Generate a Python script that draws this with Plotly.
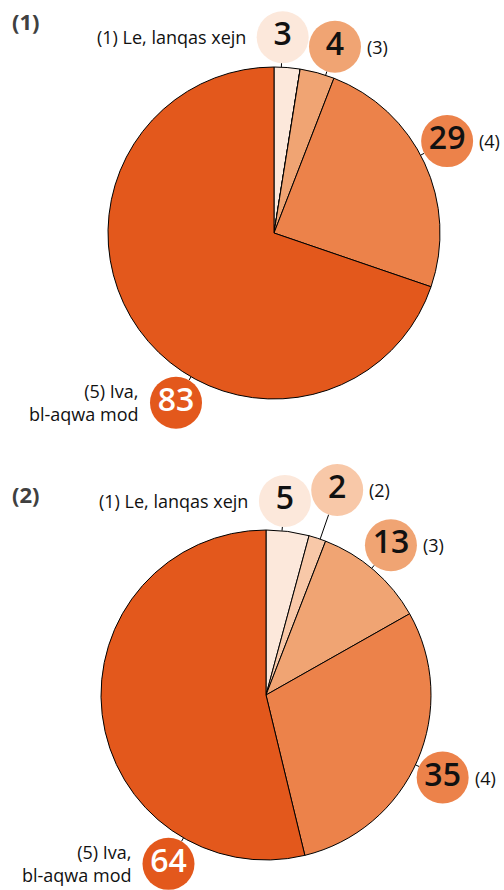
import math
import plotly.graph_objects as go

# ---- data ----
categories = ["(1) Le, lanqas xejn", "(2)", "(3)", "(4)", "(5) Iva,<br>bl-aqwa mod"]
values_1 = [3, 0, 4, 29, 83]
values_2 = [5, 2, 13, 35, 64]
panel_titles = ["(1)", "(2)"]

# ---- style ----
W, H = 504, 890
colors = ["#FCE8DB", "#F8C8A8", "#F0A473", "#EC824A", "#E3581C"]
num_colors = ["#111111", "#111111", "#111111", "#111111", "#FFFFFF"]
label_side = ["left", "right", "right", "right", "left"]
FONT = "Open Sans"
BUB_R = 26

pies = [
    dict(values=values_1, title=panel_titles[0], cx=274, cy=233, r=166, ty=21,
         ang_shift=[-2, 0, 3, -3, None], extra=[0, 0, 0, 0, 0]),
    dict(values=values_2, title=panel_titles[1], cx=266, cy=695, r=165, ty=494,
         ang_shift=[-2, 1, -1, 1.6, None], extra=[0, 22, 0, 0, 0]),
]
BIG_ANGLE = 210  # label angle for the last category

fig = go.Figure()
annotations = []

for p in pies:
    cx, cy, r = p["cx"], p["cy"], p["r"]
    fig.add_trace(go.Pie(
        values=p["values"], labels=categories, sort=False, direction="clockwise",
        rotation=0, marker=dict(colors=colors, line=dict(color="#000000", width=1)),
        textinfo="none", hoverinfo="label+value", showlegend=False,
        domain=dict(x=[(cx - r) / W, (cx + r) / W], y=[1 - (cy + r) / H, 1 - (cy - r) / H]),
    ))
    total = sum(p["values"])
    cum = 0
    lx, ly = [], []
    bx, by, bc, bt, btc = [], [], [], [], []
    for i, v in enumerate(p["values"]):
        start = cum / total * 360
        cum += v
        end = cum / total * 360
        if v == 0:
            continue
        mid = (start + end) / 2
        a = BIG_ANGLE if p["ang_shift"][i] is None else mid + p["ang_shift"][i]
        R = r + 4 + BUB_R + p["extra"][i]
        ar = math.radians(a)
        x = cx + R * math.sin(ar)
        y = cy - R * math.cos(ar)
        # leader line from pie edge to bubble edge
        lx += [cx + r * math.sin(ar), cx + (R - BUB_R) * math.sin(ar), None]
        ly += [cy - r * math.cos(ar), cy - (R - BUB_R) * math.cos(ar), None]
        bx.append(x); by.append(y); bc.append(colors[i]); bt.append(str(v)); btc.append(num_colors[i])
        if label_side[i] == "left":
            annotations.append(dict(x=x - BUB_R - 9, y=y, xref="x", yref="y", text=categories[i],
                                    xanchor="right", yanchor="middle", align="right", showarrow=False,
                                    font=dict(family=FONT, size=18, color="#111111")))
        else:
            annotations.append(dict(x=x + BUB_R + 4, y=y, xref="x", yref="y", text=categories[i],
                                    xanchor="left", yanchor="middle", align="left", showarrow=False,
                                    font=dict(family=FONT, size=18, color="#111111")))
    fig.add_trace(go.Scatter(x=lx, y=ly, mode="lines", line=dict(color="#000000", width=1),
                             hoverinfo="skip", showlegend=False))
    fig.add_trace(go.Scatter(x=bx, y=by, mode="markers+text", text=bt, textposition="middle center",
                             marker=dict(size=2 * BUB_R, color=bc, line=dict(width=0)),
                             textfont=dict(family=FONT, size=32, color=btc, weight=600),
                             hoverinfo="skip", showlegend=False))
    annotations.append(dict(x=10, y=p["ty"], xref="x", yref="y", text="<b>" + p["title"] + "</b>",
                            xanchor="left", yanchor="middle", showarrow=False,
                            font=dict(family=FONT, size=22, color="#404040")))

fig.update_layout(
    width=W, height=H, autosize=False, margin=dict(l=0, r=0, t=0, b=0),
    paper_bgcolor="white", plot_bgcolor="white",
    xaxis=dict(range=[0, W], visible=False, fixedrange=True),
    yaxis=dict(range=[H, 0], visible=False, fixedrange=True),
    annotations=annotations,
)
fig.write_html("out.html", config={"displayModeBar": False},
               post_script="document.body.style.margin='0';document.body.style.overflow='hidden';")
